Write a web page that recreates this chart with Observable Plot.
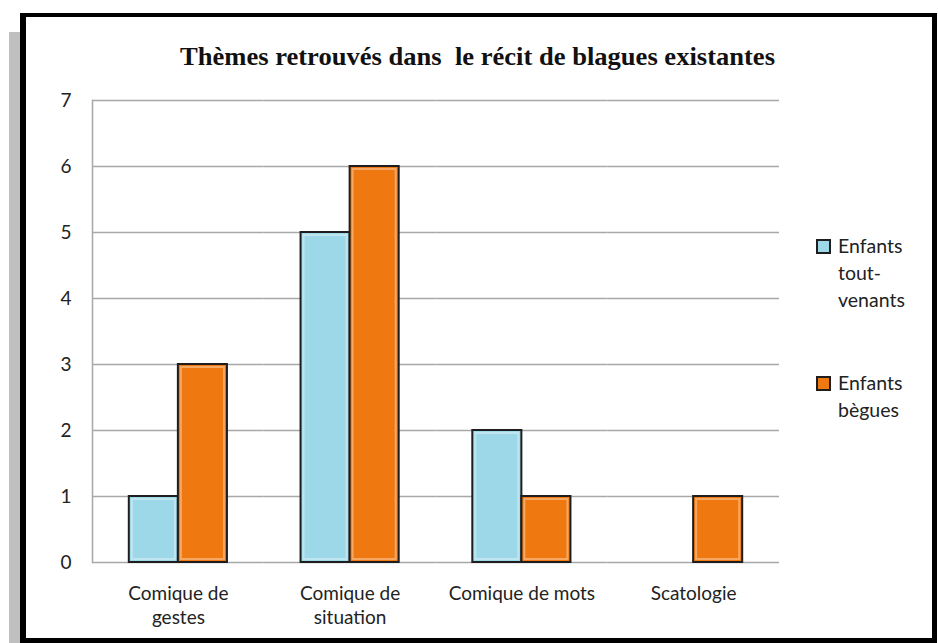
<!DOCTYPE html>
<html><head><meta charset="utf-8">
<script src="https://cdn.jsdelivr.net/npm/d3@7"></script>
<script src="https://cdn.jsdelivr.net/npm/@observablehq/plot@0.6"></script>
<style>
body{margin:0;background:#fff;}
#wrap{position:relative;width:938px;height:643px;overflow:hidden;background:#fff;}
#shadow{position:absolute;left:9px;top:32px;width:11px;height:611px;background:#c0c0c0;}
#frame{position:absolute;left:20px;top:13px;right:1px;bottom:0;border-style:solid;border-color:#000;border-width:4px 5px 5px 6px;background:#fff;}
#chart{position:absolute;left:0;top:0;}
#title{position:absolute;left:0;top:0;}
.leg{position:absolute;left:816px;font-family:Lato,sans-serif;font-size:19.5px;line-height:27px;color:#222;}
.leg .sw{position:absolute;left:0;top:7px;width:11px;height:11px;border:2px solid #1e1e1e;}
.leg .tx{position:absolute;left:22px;top:0;white-space:nowrap;}
</style></head>
<body>
<div id="wrap">
  <div id="shadow"></div>
  <div id="frame"></div>
  <svg id="title" width="938" height="100">
    <text x="180" y="65" textLength="595" lengthAdjust="spacingAndGlyphs" style="white-space:pre" font-family="Liberation Serif, serif" font-weight="bold" font-size="26" fill="#111">Thèmes retrouvés dans  le récit de blagues existantes</text>
  </svg>
  <div id="chart"></div>
  <div id="legend"></div>
</div>
<script>
const categories = ["Comique de gestes", "Comique de situation", "Comique de mots", "Scatologie"];
const categoryLabels = ["Comique de\ngestes", "Comique de\nsituation", "Comique de mots", "Scatologie"];
const series = ["Enfants tout-venants", "Enfants bègues"];
const seriesLabels = [["Enfants", "tout-", "venants"], ["Enfants", "bègues"]];
const toutVenants = [1, 5, 2, 0];
const begues = [3, 6, 1, 1];
const yTicks = [0, 1, 2, 3, 4, 5, 6, 7];
const colors = ["#9dd8e9", "#f07811"];

const data = categories.flatMap((c, i) => [
  {cat: c, series: series[0], value: toutVenants[i]},
  {cat: c, series: series[1], value: begues[i]}
]);
const bars = data.filter(d => d.value > 0);

const chart = Plot.plot({
  width: 938, height: 643,
  marginLeft: 92, marginRight: 159, marginTop: 100, marginBottom: 81,
  style: {background: "transparent", fontFamily: "Lato, sans-serif", fontSize: "19px", color: "#222"},
  fx: {domain: categories, padding: 0, round: false, label: null, axis: null},
  x: {domain: series, paddingInner: 0, paddingOuter: 0.75, round: false, axis: null},
  y: {domain: [0, 7], label: null, axis: null},
  color: {domain: series, range: colors},
  marks: [
    Plot.gridY(yTicks, {stroke: "#a8a8a8", strokeOpacity: 1, strokeWidth: 1.5}),
    Plot.frame({anchor: "left", facetAnchor: "left", stroke: "#a8a8a8", strokeWidth: 1.5}),
    Plot.axisY(yTicks, {tickSize: 0, tickPadding: 21, label: null, fontSize: 19, tickFormat: d => String(d)}),
    Plot.axisFx({anchor: "bottom", tickSize: 0, tickPadding: 20, label: null, lineHeight: 1.28, fontSize: 19,
      tickFormat: d => categoryLabels[categories.indexOf(d)]}),
    Plot.barY(bars, {fx: "cat", x: "series", y: "value", fill: "series",
      stroke: "#1e1e1e", strokeWidth: 2}),
    Plot.barY(bars, {fx: "cat", x: "series", y: "value", fill: null,
      stroke: "white", strokeOpacity: 0.35, strokeWidth: 2,
      insetTop: 3, insetLeft: 3, insetRight: 3, insetBottom: 3})
  ]
});
document.getElementById("chart").appendChild(chart);

const legend = document.getElementById("legend");
const legTops = [232, 369];
series.forEach((s, i) => {
  const item = document.createElement("div");
  item.className = "leg";
  item.style.top = legTops[i] + "px";
  const sw = document.createElement("div");
  sw.className = "sw";
  sw.style.background = colors[i];
  const tx = document.createElement("div");
  tx.className = "tx";
  tx.innerHTML = seriesLabels[i].join("<br>");
  item.appendChild(sw);
  item.appendChild(tx);
  legend.appendChild(item);
});
</script>
</body></html>
